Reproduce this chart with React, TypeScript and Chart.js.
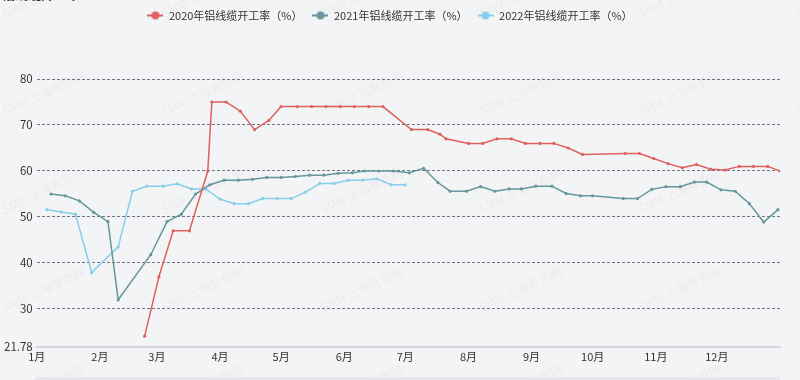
import React, { useEffect, useRef } from 'react';
import { Chart, registerables } from 'chart.js';

Chart.register(...registerables);

const monthDays = [0, 31, 59, 90, 120, 151, 181, 212, 243, 273, 304, 334];
const monthLabels = ['1月', '2月', '3月', '4月', '5月', '6月', '7月', '8月', '9月', '10月', '11月', '12月'];
const yTicks = [21.78, 30, 40, 50, 60, 70, 80];
const seriesNames = ['2020年铝线缆开工率（%）', '2021年铝线缆开工率（%）', '2022年铝线缆开工率（%）'];

const days2020 = [53, 60, 67, 75, 84, 86, 93, 100, 107, 114, 120, 128, 135, 142, 149, 156, 163, 170, 184, 192, 198, 201, 212, 219, 226, 233, 240, 247, 254, 261, 268, 289, 296, 303, 310, 317, 324, 331, 338, 345, 352, 359, 365];
const values2020 = [24.1, 37, 47, 47, 60, 75, 75, 73, 69, 71, 74, 74, 74, 74, 74, 74, 74, 74, 69, 69, 68, 67, 66, 66, 67, 67, 66, 66, 66, 65, 63.6, 63.8, 63.8, 62.7, 61.6, 60.7, 61.4, 60.4, 60.2, 61, 61, 61, 60];

const days2021 = [7, 14, 21, 28, 35, 40, 56, 64, 71, 78, 85, 92, 99, 106, 113, 120, 127, 134, 141, 148, 155, 161, 168, 175, 183, 190, 197, 203, 211, 218, 225, 232, 238, 245, 253, 260, 267, 273, 288, 295, 302, 309, 316, 323, 329, 336, 343, 350, 357, 364];
const values2021 = [55, 54.6, 53.5, 51, 49, 32, 41.8, 49, 50.6, 55, 57, 58, 58, 58.2, 58.6, 58.6, 58.8, 59.1, 59.1, 59.5, 59.6, 60, 60, 60, 59.6, 60.6, 57.5, 55.6, 55.6, 56.6, 55.6, 56.1, 56.1, 56.7, 56.7, 55.1, 54.6, 54.6, 54, 54, 56, 56.6, 56.6, 57.6, 57.6, 55.9, 55.6, 52.9, 48.9, 51.6];

const days2022 = [5, 12, 19, 27, 40, 47, 54, 62, 69, 76, 83, 90, 97, 104, 111, 118, 125, 132, 139, 146, 153, 160, 167, 174, 181];
const values2022 = [51.6, 51.1, 50.6, 37.9, 43.5, 55.6, 56.7, 56.7, 57.2, 56.1, 56.1, 53.9, 52.9, 52.9, 54, 54, 54, 55.4, 57.3, 57.3, 58, 58, 58.3, 57, 57];

const colors = ['#e0605e', '#64979b', '#87ceeb'];
const FONT = '"Noto Sans CJK SC", "Noto Sans", sans-serif';

function makeMarker(color: string) {
  const c = document.createElement('canvas');
  c.width = 16;
  c.height = 10;
  const ctx = c.getContext('2d')!;
  ctx.strokeStyle = color;
  ctx.lineWidth = 2;
  ctx.beginPath();
  ctx.moveTo(0, 5);
  ctx.lineTo(16, 5);
  ctx.stroke();
  ctx.fillStyle = color;
  ctx.beginPath();
  ctx.arc(8, 5, 4, 0, Math.PI * 2);
  ctx.fill();
  return c;
}

export default function App() {
  const ref = useRef<HTMLCanvasElement>(null);
  useEffect(() => {
    document.body.style.margin = '0';
    document.body.style.background = '#f3f4f6';
    const markers = colors.map(makeMarker);
    const toPts = (d: number[], v: number[]) => d.map((x, i) => ({ x, y: v[i] }));
    const series = [toPts(days2020, values2020), toPts(days2021, values2021), toPts(days2022, values2022)];

    const watermark = {
      id: 'wm',
      beforeDraw(chart: any) {
        const ctx = chart.ctx;
        ctx.save();
        ctx.font = '12px ' + FONT;
        ctx.fillStyle = 'rgba(0,0,0,0.045)';
        for (let i = 0; i < 6; i++) {
          for (let j = 0; j < 5; j++) {
            ctx.save();
            ctx.translate(3 + 159 * i, 14 + 98 * j);
            ctx.rotate((-25 * Math.PI) / 180);
            ctx.fillText('SMM 上海有色网', 0, 0);
            ctx.restore();
          }
        }
        ctx.fillStyle = '#e6e8ed';
        ctx.fillRect(35, 377, 745, 3);
        ctx.restore();
      },
    };
    const legendSpace = {
      id: 'legendSpace',
      beforeInit(chart: any) {
        const l = chart.legend;
        if (!l) return;
        const f = l.fit;
        l.fit = function () {
          f.call(l);
          l.height += 48;
        };
      },
    };

    const chart = new Chart(ref.current!, {
      type: 'line',
      data: {
        datasets: series.map((data, i) => ({
          label: seriesNames[i],
          data,
          borderColor: colors[i],
          backgroundColor: colors[i],
          borderWidth: 1.5,
          pointRadius: 1.6,
          pointBorderWidth: 0,
          pointBackgroundColor: colors[i],
          tension: 0,
          fill: false,
        })),
      },
      options: {
        responsive: false,
        animation: false,
        layout: { padding: { left: 0, right: 20, top: 0, bottom: 14 } },
        plugins: {
          tooltip: { enabled: false },
          legend: {
            position: 'top',
            labels: {
              usePointStyle: true,
              pointStyleWidth: 16,
              boxHeight: 10,
              padding: 10,
              color: '#333',
              font: { size: 11, family: FONT },
              generateLabels: (ch: any) =>
                ch.data.datasets.map((ds: any, i: number) => ({
                  text: ds.label,
                  pointStyle: markers[i],
                  fillStyle: colors[i],
                  strokeStyle: colors[i],
                  lineWidth: 0,
                  hidden: false,
                  datasetIndex: i,
                  fontColor: '#333',
                })),
            },
          },
        },
        scales: {
          x: {
            type: 'linear',
            min: 0,
            max: 365,
            afterBuildTicks: (s: any) => {
              s.ticks = monthDays.map((v) => ({ value: v }));
            },
            ticks: {
              autoSkip: false,
              maxRotation: 0,
              padding: 3,
              color: '#333',
              font: { size: 11, family: FONT },
              callback: (_v: any, idx: number) => monthLabels[idx],
            },
            grid: { display: false, drawTicks: false },
            border: { display: true, color: '#d3d5e0', width: 2 },
          },
          y: {
            min: 21.78,
            max: 80,
            afterBuildTicks: (s: any) => {
              s.ticks = yTicks.map((v) => ({ value: v }));
            },
            ticks: {
              padding: 4,
              color: '#333',
              font: { size: 11.5, family: FONT },
              callback: (v: any) => String(v),
            },
            grid: {
              drawTicks: false,
              color: (c: any) => (c.tick && c.tick.value === 21.78 ? 'rgba(0,0,0,0)' : '#70738a'),
              lineWidth: 1,
            },
            border: { display: false, dash: [3, 2] },
          },
        },
      },
      plugins: [watermark, legendSpace],
    } as any);
    return () => chart.destroy();
  }, []);

  return (
    <div style={{ position: 'relative', width: 800, height: 380, background: '#f3f4f6', overflow: 'hidden' }}>
      <div style={{ position: 'absolute', left: 2, top: -16, font: 'bold 13px ' + FONT, color: '#333' }}>铝线缆开工率</div>
      <canvas ref={ref} width={800} height={380} style={{ display: 'block' }} />
    </div>
  );
}
